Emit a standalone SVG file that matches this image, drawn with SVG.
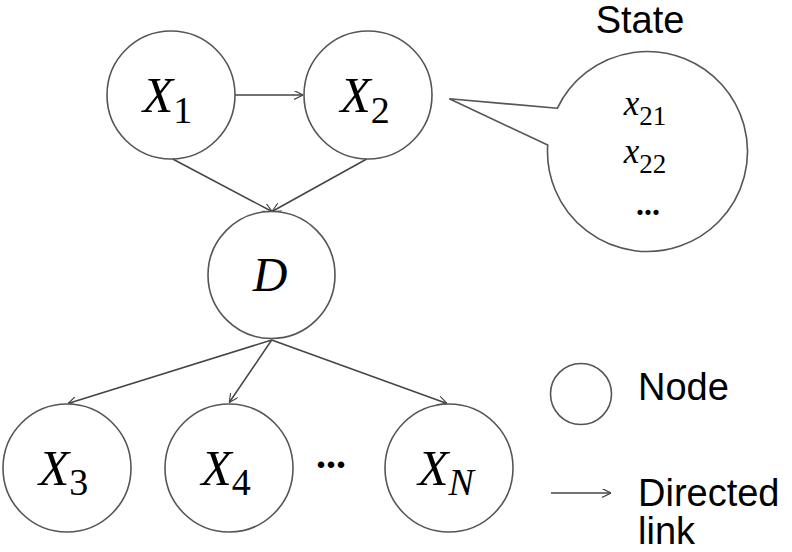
<svg xmlns="http://www.w3.org/2000/svg" width="792" height="552" viewBox="0 0 792 552">
<style>
.node{fill:#fff;stroke:#555;stroke-width:1.6}
.edge{fill:none;stroke:#444;stroke-width:1.5;marker-end:url(#ah)}
.math{font-family:"Liberation Serif","Times New Roman",serif;font-style:italic;fill:#000}
.sub{font-style:normal}
.lbl{font-family:"Liberation Sans",Arial,sans-serif;font-size:38px;fill:#000}
.dots{font-family:"Liberation Serif","Times New Roman",serif;fill:#000}
</style>
<defs>
<marker id="ah" viewBox="0 0 10 10" refX="10" refY="5" markerWidth="9" markerHeight="9" markerUnits="userSpaceOnUse" orient="auto">
<path d="M0,0 L10,5 L0,10" fill="none" stroke="#444" stroke-width="1.3"/>
</marker>
</defs>
<rect width="792" height="552" fill="#fff"/>
<g id="connectors">
<line class="edge" x1="235" y1="95" x2="303" y2="95"/>
<line class="edge" x1="172.7" y1="159" x2="272" y2="211.5"/>
<line class="edge" x1="366.7" y1="159" x2="272" y2="211.5"/>
<line class="edge" x1="271.7" y1="340" x2="68" y2="403.5"/>
<line class="edge" x1="271.7" y1="340" x2="229.3" y2="402.5"/>
<line class="edge" x1="271.7" y1="340" x2="447" y2="403.5"/>
</g>
<g id="X1">
<circle class="node" cx="171" cy="95" r="64"/>
<text class="math" x="167.5" y="111.7" text-anchor="middle" font-size="50">X<tspan class="sub" font-size="38" dy="11.6">1</tspan></text>
</g>
<g id="X2">
<circle class="node" cx="368" cy="95" r="64"/>
<text class="math" x="365" y="111.7" text-anchor="middle" font-size="50">X<tspan class="sub" font-size="38" dy="11.6">2</tspan></text>
</g>
<g id="D">
<circle class="node" cx="271.5" cy="275" r="63.5"/>
<text class="math" x="270" y="291" text-anchor="middle" font-size="48">D</text>
</g>
<g id="X3">
<circle class="node" cx="67" cy="468" r="64"/>
<text class="math" x="63.5" y="485" text-anchor="middle" font-size="50">X<tspan class="sub" font-size="38" dy="10">3</tspan></text>
</g>
<g id="X4">
<circle class="node" cx="229" cy="468" r="64"/>
<text class="math" x="226" y="485" text-anchor="middle" font-size="50">X<tspan class="sub" font-size="38" dy="10">4</tspan></text>
</g>
<g id="XN">
<circle class="node" cx="449" cy="468" r="64"/>
<text class="math" x="446" y="485" text-anchor="middle" font-size="50">X<tspan font-size="38" dy="10">N</tspan></text>
</g>
<text class="dots" x="331" y="468" text-anchor="middle" font-size="40" font-weight="bold">...</text>
<g id="state-callout">
<path class="node" d="M557.3,108.3 L449.3,98.7 L547.7,145 A100,100 0 1 0 557.3,108.3 Z"/>
<text class="lbl" x="640" y="33" text-anchor="middle" font-size="38">State</text>
<text class="math" x="645" y="115" text-anchor="middle" font-size="35">x<tspan class="sub" font-size="27" dy="10">21</tspan></text>
<text class="math" x="645" y="163.3" text-anchor="middle" font-size="35">x<tspan class="sub" font-size="27" dy="10">22</tspan></text>
<text class="dots" x="648" y="215" text-anchor="middle" font-size="32" font-weight="bold">...</text>
</g>
<g id="legend">
<circle class="node" cx="581" cy="394" r="30.5"/>
<text class="lbl" x="638" y="400">Node</text>
<line class="edge" x1="551" y1="493" x2="611" y2="493"/>
<text class="lbl" x="638" y="506">Directed</text>
<text class="lbl" x="638" y="544">link</text>
</g>
</svg>
